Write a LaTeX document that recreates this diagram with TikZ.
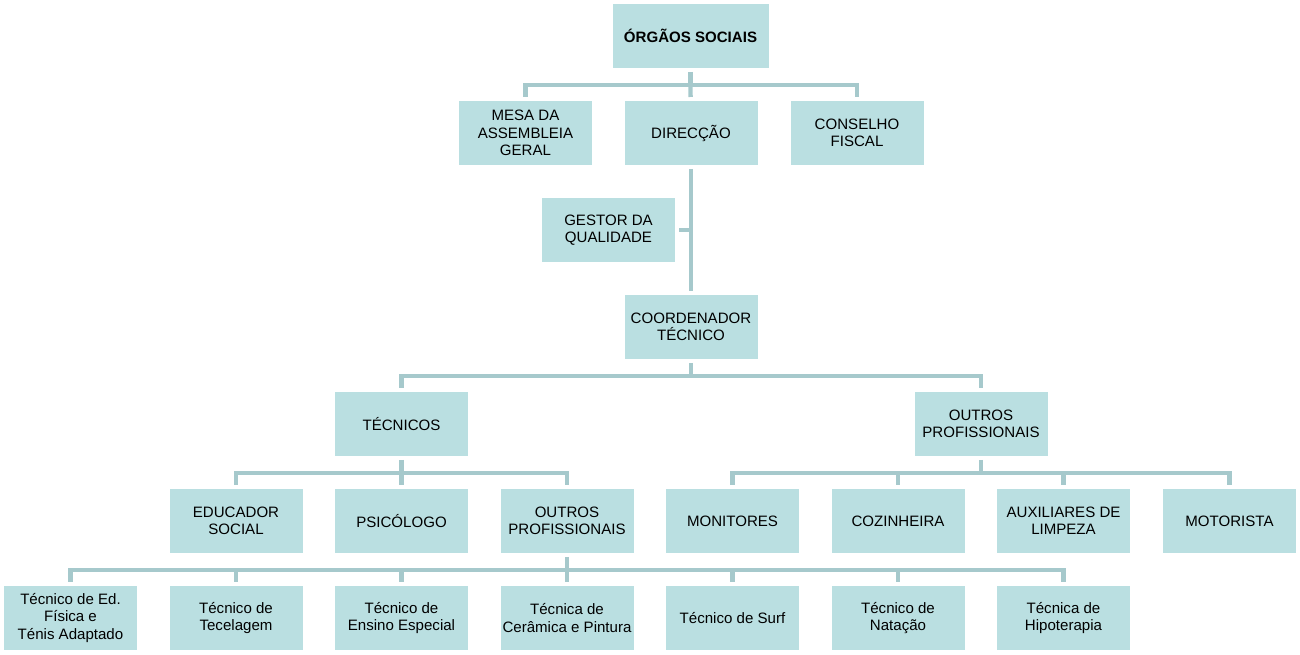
\documentclass[tikz,border=0pt]{standalone}
\usepackage{fontspec}
\setmainfont{Liberation Sans}
\usepackage{xcolor}
\usepackage{tikz}

\definecolor{boxfill}{RGB}{186,223,225}
\definecolor{linkcol}{RGB}{166,201,204}

\tikzset{
    box/.style={fill=boxfill, minimum width=99.75pt, minimum height=48pt, inner sep=0pt,
        outer sep=3pt, align=center, font=\fontsize{11.3}{12.9}\selectfont},
    link/.style={draw=linkcol, line width=3.2pt}
}

\begin{document}
\begin{tikzpicture}[x=0.75pt,y=-0.75pt]
            \useasboundingbox (0,0) rectangle (1300,655);

            % Nodes
            \node[box, minimum width=117pt, font=\fontsize{11.3}{12.9}\selectfont\bfseries] (orgaos) at (690.5,36) {ÓRGÃOS SOCIAIS};
            \node[box] (mesa) at (525.5,133) {MESA DA\\ASSEMBLEIA\\GERAL};
            \node[box] (direccao) at (691,133) {DIRECÇÃO};
            \node[box] (conselho) at (857,133) {CONSELHO\\FISCAL};
            \node[box] (gestor) at (608.5,230) {GESTOR DA\\QUALIDADE};
            \node[box] (coord) at (691,327) {COORDENADOR\\TÉCNICO};
            \node[box] (tecnicos) at (401.5,424) {TÉCNICOS};
            \node[box] (outrosB) at (981,424) {OUTROS\\PROFISSIONAIS};

            \node[box] (educador) at (236,521) {EDUCADOR\\SOCIAL};
            \node[box] (psicologo) at (401.5,521) {PSICÓLOGO};
            \node[box] (outrosA) at (567,521) {OUTROS\\PROFISSIONAIS};
            \node[box] (monitores) at (732.5,521) {MONITORES};
            \node[box] (cozinheira) at (898,521) {COZINHEIRA};
            \node[box] (auxiliares) at (1063.5,521) {AUXILIARES DE\\LIMPEZA};
            \node[box] (motorista) at (1229.5,521) {MOTORISTA};

            \node[box] (t1) at (70.5,618) {Técnico de Ed.\\Física e\\Ténis Adaptado};
            \node[box] (t2) at (236,618) {Técnico de\\Tecelagem};
            \node[box] (t3) at (401.5,618) {Técnico de\\Ensino Especial};
            \node[box] (t4) at (567,618) {Técnica de\\Cerâmica e Pintura};
            \node[box] (t5) at (732.5,618) {Técnico de Surf};
            \node[box] (t6) at (898,618) {Técnico de\\Natação};
            \node[box] (t7) at (1063.5,618) {Técnica de\\Hipoterapia};

            % Edges
            \coordinate (b1) at (690.5,85);
            \draw[link] (orgaos) -- (b1);
            \draw[link] (mesa.north) |- (b1) -| (conselho.north);
            \draw[link] (b1) -- (direccao);

            \draw[link] (direccao) -- (coord);
            \draw[link] (gestor) -- (gestor -| direccao);

            \coordinate (b2) at (691,376);
            \draw[link] (coord) -- (b2);
            \draw[link] (tecnicos.north) |- (b2) -| (outrosB.north);

            \coordinate (b3) at (401.5,473);
            \draw[link] (tecnicos) -- (b3);
            \draw[link] (educador.north) |- (b3) -| (outrosA.north);
            \draw[link] (b3) -- (psicologo);

            \coordinate (b4) at (981,473);
            \draw[link] (outrosB) -- (b4);
            \draw[link] (monitores.north) |- (b4) -| (motorista.north);
            \foreach \n in {cozinheira,auxiliares}
                \draw[link] (\n.north) -- (\n.north |- b4);

            \coordinate (b5) at (567,570);
            \draw[link] (outrosA) -- (b5);
            \draw[link] (t1.north) |- (b5) -| (t7.north);
            \foreach \n in {t2,t3,t4,t5,t6}
                \draw[link] (\n.north) -- (\n.north |- b5);
        \end{tikzpicture}
\end{document}
